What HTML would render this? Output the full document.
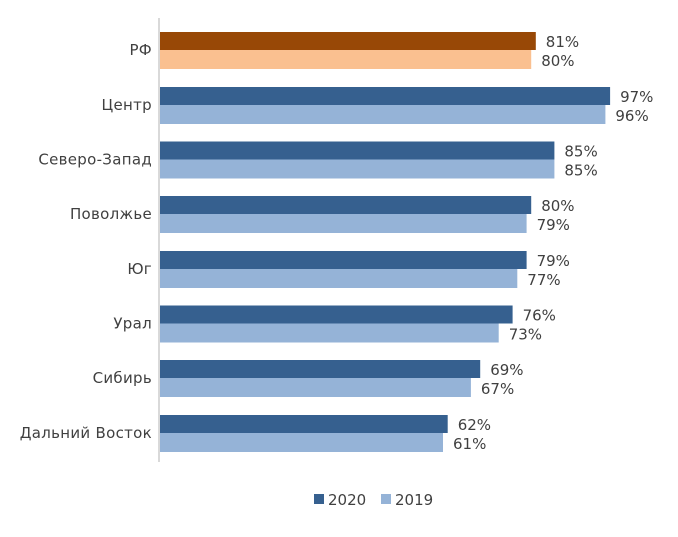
<!DOCTYPE html>
<html><head><meta charset="utf-8"><style>
body{margin:0;background:#fff}
svg text{font-family:"DejaVu Sans",sans-serif;fill:#404040;font-size:15px}
.c{letter-spacing:0.3px}
</style></head><body>
<svg width="678" height="532" xmlns="http://www.w3.org/2000/svg">
<line x1="159" y1="18" x2="159" y2="462" stroke="#d9d9d9" stroke-width="2"/>

<rect x="160" y="32" width="375.8" height="18" fill="#984806"/>
<rect x="160" y="50" width="371.2" height="19" fill="#fac090"/>
<text x="545.8" y="47">81%</text><text x="541.2" y="66">80%</text>
<text class="c" x="152" y="55" text-anchor="end">РФ</text>

<rect x="160" y="87" width="450.1" height="18" fill="#36608f"/>
<rect x="160" y="105" width="445.4" height="19" fill="#95b3d7"/>
<text x="620.1" y="102">97%</text><text x="615.4" y="121">96%</text>
<text class="c" x="152" y="110" text-anchor="end">Центр</text>

<rect x="160" y="141.5" width="394.4" height="18" fill="#36608f"/>
<rect x="160" y="159.5" width="394.4" height="19" fill="#95b3d7"/>
<text x="564.4" y="156.5">85%</text><text x="564.4" y="175.5">85%</text>
<text class="c" x="152" y="164.5" text-anchor="end">Северо-Запад</text>

<rect x="160" y="196" width="371.2" height="18" fill="#36608f"/>
<rect x="160" y="214" width="366.6" height="19" fill="#95b3d7"/>
<text x="541.2" y="211">80%</text><text x="536.6" y="230">79%</text>
<text class="c" x="152" y="219" text-anchor="end">Поволжье</text>

<rect x="160" y="251" width="366.6" height="18" fill="#36608f"/>
<rect x="160" y="269" width="357.3" height="19" fill="#95b3d7"/>
<text x="536.6" y="266">79%</text><text x="527.3" y="285">77%</text>
<text class="c" x="152" y="274" text-anchor="end">Юг</text>

<rect x="160" y="305.5" width="352.6" height="18" fill="#36608f"/>
<rect x="160" y="323.5" width="338.7" height="19" fill="#95b3d7"/>
<text x="522.6" y="320.5">76%</text><text x="508.7" y="339.5">73%</text>
<text class="c" x="152" y="328.5" text-anchor="end">Урал</text>

<rect x="160" y="360" width="320.2" height="18" fill="#36608f"/>
<rect x="160" y="378" width="310.9" height="19" fill="#95b3d7"/>
<text x="490.2" y="375">69%</text><text x="480.9" y="394">67%</text>
<text class="c" x="152" y="383" text-anchor="end">Сибирь</text>

<rect x="160" y="415" width="287.7" height="18" fill="#36608f"/>
<rect x="160" y="433" width="283.0" height="19" fill="#95b3d7"/>
<text x="457.7" y="430">62%</text><text x="453" y="449">61%</text>
<text class="c" x="152" y="438" text-anchor="end">Дальний Восток</text>

<rect x="314" y="494" width="10" height="10" fill="#36608f"/><text x="328" y="505">2020</text>
<rect x="381" y="494" width="10" height="10" fill="#95b3d7"/><text x="395" y="505">2019</text>
</svg>
</body></html>
